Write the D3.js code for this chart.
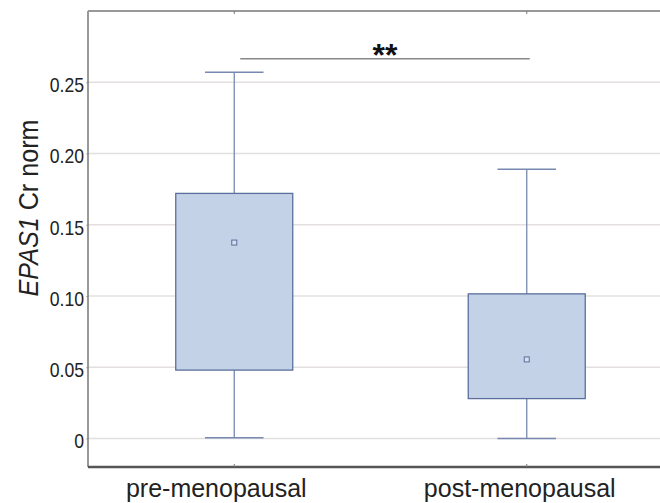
<!DOCTYPE html>
<html lang="en">
<head>
<meta charset="UTF-8">
<script src="https://cdn.jsdelivr.net/npm/d3@7"></script>
<title>EPAS1 Cr norm box plot</title>
<style>
  html, body { margin: 0; padding: 0; background: #fff; }
  svg { display: block; }
</style>
</head>
<body>
<div id="chart"></div>
<script>
// values
let groups = ['pre-menopausal', 'post-menopausal'];
let whiskerLow = [0.0005, 0.0];
let q1 = [0.048, 0.028];
let q3 = [0.172, 0.1015];
let whiskerHigh = [0.257, 0.189];
let means = [0.1375, 0.0555];
let yTicks = [0, 0.05, 0.10, 0.15, 0.20, 0.25];
let yTickLabels = ['0', '0.05', '0.10', '0.15', '0.20', '0.25'];
let sigLabel = '**';
let sigLevel = 0.2665;

let width = 660, height = 503;
let plotLeft = 88, plotTop = 11, plotBottom = 467, plotRight = 673;

let svg = d3.select('#chart').append('svg').attr('width', width).attr('height', height);

let y = d3.scaleLinear().domain([-0.02, 0.30]).range([plotBottom, plotTop]);
let x = d3.scaleBand().domain(groups).range([plotLeft, plotRight]);
let bw = x.bandwidth();

let font = '"Liberation Sans", Arial, sans-serif';

// no narrow font here, so squeeze the glyphs
function squeeze(sel, k) {
  sel.each(function() {
    let w = this.getComputedTextLength();
    d3.select(this).attr('textLength', w * k).attr('lengthAdjust', 'spacingAndGlyphs');
  });
}

// grid lines
svg.append('g').selectAll('line')
  .data(yTicks)
  .join('line')
  .attr('x1', plotLeft).attr('x2', plotRight)
  .attr('y1', d => y(d)).attr('y2', d => y(d))
  .attr('stroke', '#e4dfdf')
  .attr('stroke-width', 1.3);

// y axis
let yAxis = svg.append('g')
  .attr('transform', `translate(${plotLeft},0)`)
  .call(d3.axisLeft(y).tickValues(yTicks).tickFormat((d, i) => yTickLabels[i]).tickSize(2).tickPadding(2));
yAxis.select('.domain').remove();
yAxis.selectAll('line').attr('stroke', '#bbb');
yAxis.selectAll('text')
  .attr('font-family', font)
  .attr('font-size', 21)
  .attr('dy', '0.45em')
  .attr('fill', '#222')
  .call(squeeze, 0.84);

// frame
svg.append('line').attr('x1', plotLeft).attr('x2', plotLeft).attr('y1', plotTop).attr('y2', plotBottom)
  .attr('stroke', '#777').attr('stroke-width', 1.5);
svg.append('line').attr('x1', plotLeft).attr('x2', width).attr('y1', plotTop).attr('y2', plotTop)
  .attr('stroke', '#999').attr('stroke-width', 2);

// x axis
let xAxis = svg.append('g')
  .attr('transform', `translate(0,${plotBottom})`)
  .call(d3.axisBottom(x).tickSize(-3).tickPadding(12));
xAxis.select('.domain').attr('d', `M${plotLeft},0H${width}`).attr('stroke', '#555').attr('stroke-width', 2.5);
xAxis.selectAll('line').attr('stroke', '#777');
xAxis.selectAll('text')
  .attr('font-family', font)
  .attr('font-size', 25)
  .attr('fill', '#222')
  .attr('dx', (d, i) => i === 0 ? -18 : -7);

// inner ticks on the top frame
svg.append('g').selectAll('line')
  .data(groups)
  .join('line')
  .attr('x1', d => x(d) + bw / 2).attr('x2', d => x(d) + bw / 2)
  .attr('y1', plotTop).attr('y2', plotTop + 3)
  .attr('stroke', '#777');

// y label
svg.append('text')
  .attr('transform', `translate(38,${(y(0.30) + y(-0.02)) / 2 - 31}) rotate(-90)`)
  .attr('text-anchor', 'middle')
  .attr('font-family', font)
  .attr('font-size', 27)
  .attr('fill', '#222')
  .attr('textLength', 177)
  .attr('lengthAdjust', 'spacingAndGlyphs')
  .call(t => {
    t.append('tspan').attr('font-style', 'italic').text('EPAS1');
    t.append('tspan').text(' Cr norm');
  });

let boxColor = '#5a6f9c';
let whiskerColor = '#7889b0';
let boxes = svg.append('g').selectAll('g')
  .data(groups)
  .join('g')
  .attr('transform', d => `translate(${x(d) + bw / 2},0)`);

// whiskers
boxes.append('line')
  .attr('y1', (d, i) => y(whiskerLow[i])).attr('y2', (d, i) => y(whiskerHigh[i]))
  .attr('stroke', whiskerColor).attr('stroke-width', 1.3);
[whiskerLow, whiskerHigh].forEach(arr => {
  boxes.append('line')
    .attr('x1', -bw * 0.1).attr('x2', bw * 0.1)
    .attr('y1', (d, i) => y(arr[i])).attr('y2', (d, i) => y(arr[i]))
    .attr('stroke', whiskerColor).attr('stroke-width', 1.5);
});

// boxes
boxes.append('rect')
  .attr('x', -bw * 0.2)
  .attr('width', bw * 0.4)
  .attr('y', (d, i) => y(q3[i]))
  .attr('height', (d, i) => y(q1[i]) - y(q3[i]))
  .attr('fill', '#c4d2e8')
  .attr('stroke', boxColor)
  .attr('stroke-width', 1.3);

// means
boxes.append('rect')
  .attr('x', -2.5).attr('width', 5)
  .attr('y', (d, i) => y(means[i]) - 2.5).attr('height', 5)
  .attr('fill', '#d6e0f0')
  .attr('stroke', boxColor)
  .attr('stroke-width', 1);

// significance bar
let sx1 = x(groups[0]) + bw / 2 + 6, sx2 = x(groups[1]) + bw / 2 + 3;
svg.append('line')
  .attr('x1', sx1).attr('x2', sx2)
  .attr('y1', y(sigLevel)).attr('y2', y(sigLevel))
  .attr('stroke', '#888').attr('stroke-width', 1.6);
svg.append('text')
  .attr('x', (sx1 + sx2) / 2)
  .attr('y', y(sigLevel) + 7.5)
  .attr('text-anchor', 'middle')
  .attr('font-family', font)
  .attr('font-weight', 'bold')
  .attr('font-size', 32)
  .attr('fill', '#111')
  .text(sigLabel);
</script>
</body>
</html>
